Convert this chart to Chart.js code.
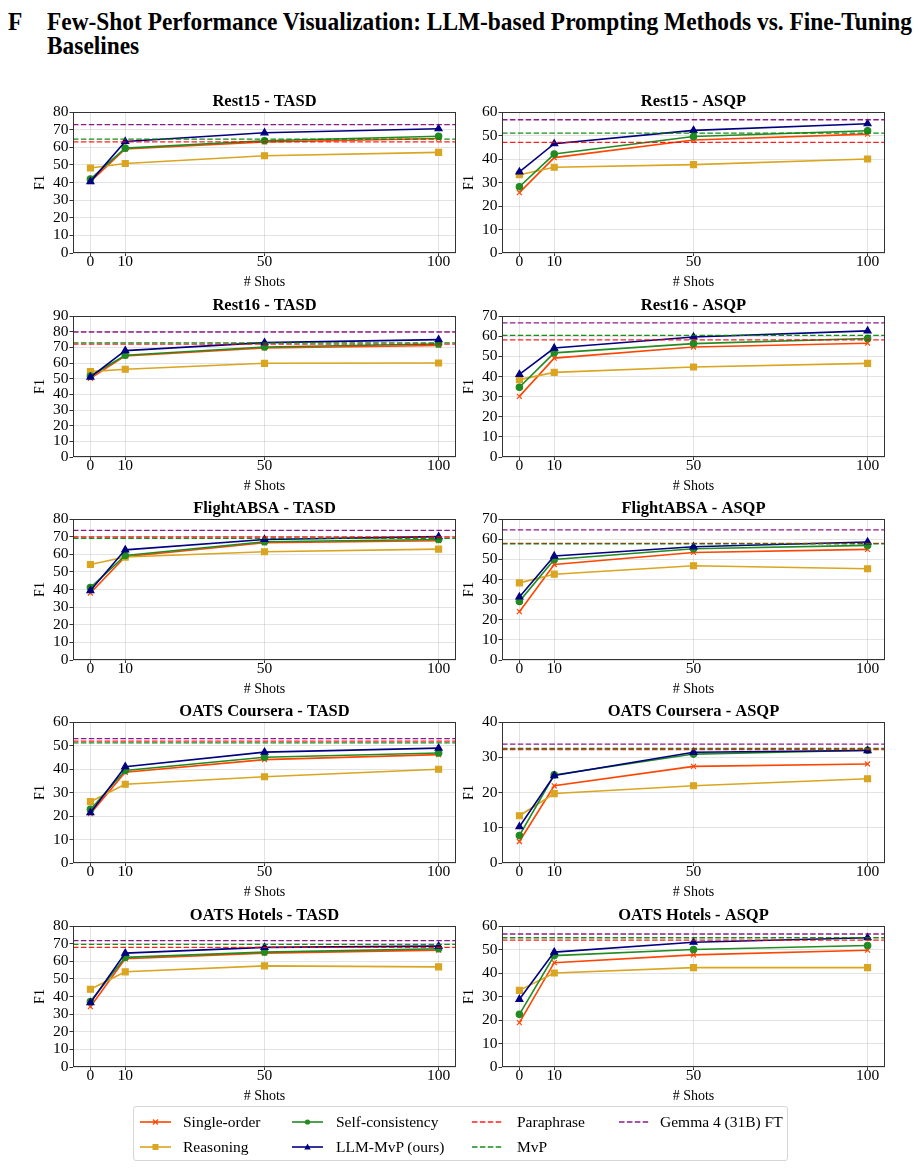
<!DOCTYPE html>
<html>
<head>
<meta charset="utf-8">
<script src="https://cdn.jsdelivr.net/npm/chart.js@4.4.1/dist/chart.umd.min.js"></script>
<style>
  body { margin: 0; background: #fff; width: 920px; height: 1168px; position: relative; overflow: hidden;
         font-family: "Liberation Serif", "Times New Roman", serif; color: #000; }
  .head { position: absolute; top: 10px; font-size: 25px; font-weight: bold; line-height: 24px;
          white-space: nowrap; transform-origin: 0 0; }
  .panel { position: absolute; }
  #legend { position: absolute; left: 133px; top: 1106px; width: 655px; height: 55px; box-sizing: border-box;
            border: 1px solid #d6d6d6; border-radius: 3px; }
  .item { position: absolute; height: 20px; }
  .item svg { position: absolute; left: 0; top: 4px; }
  .item span { position: absolute; top: 0; line-height: 20px; font-size: 15.5px; white-space: nowrap; }
</style>
</head>
<body>
<div class="head" id="secF" style="left:8px">F</div>
<div class="head" id="h1" style="left:47px">Few-Shot Performance Visualization: LLM-based Prompting Methods vs. Fine-Tuning</div>
<div class="head" id="h2" style="left:47px; top:34px">Baselines</div>
<div id="panels"></div>
<div id="legend"></div>

<script>
// --- Data ---
const shots = [0, 10, 50, 100];
const panelTitles = [
  "Rest15 - TASD", "Rest15 - ASQP",
  "Rest16 - TASD", "Rest16 - ASQP",
  "FlightABSA - TASD", "FlightABSA - ASQP",
  "OATS Coursera - TASD", "OATS Coursera - ASQP",
  "OATS Hotels - TASD", "OATS Hotels - ASQP"
];
const yMax = [80, 60, 90, 70, 80, 70, 60, 40, 80, 60];

const methodNames = ["Single-order", "Reasoning", "Self-consistency", "LLM-MvP (ours)"];
const baselineNames = ["Paraphrase", "MvP", "Gemma 4 (31B) FT"];

// one row per panel, values at 0 / 10 / 50 / 100 shots
const singleOrder = [
  [40.5, 59.0, 63.0, 65.0],
  [25.7, 40.6, 48.1, 50.6],
  [50.2, 64.5, 69.6, 71.2],
  [30.1, 49.1, 54.6, 56.5],
  [38.0, 58.6, 66.5, 67.7],
  [24.0, 47.4, 53.4, 54.9],
  [21.0, 38.6, 44.0, 46.1],
  [6.1, 21.9, 27.4, 28.1],
  [34.2, 61.4, 64.6, 66.3],
  [18.9, 44.4, 47.7, 49.7]
];
const reasoning = [
  [48.2, 50.8, 55.2, 57.1],
  [33.3, 36.5, 37.6, 40.0],
  [54.5, 56.0, 59.8, 60.0],
  [38.4, 42.0, 44.7, 46.5],
  [54.2, 58.4, 61.4, 62.9],
  [38.3, 42.6, 46.8, 45.3],
  [26.1, 33.5, 36.7, 39.9],
  [13.4, 19.7, 21.9, 23.9],
  [44.1, 54.0, 57.4, 56.8],
  [32.6, 40.0, 42.3, 42.3]
];
const selfConsistency = [
  [42.0, 59.5, 63.7, 66.2],
  [28.2, 42.1, 49.6, 52.0],
  [51.7, 64.9, 70.2, 72.1],
  [34.6, 51.7, 56.3, 58.8],
  [41.1, 59.3, 67.1, 68.4],
  [29.1, 49.9, 55.2, 56.9],
  [22.8, 39.4, 45.0, 46.8],
  [7.8, 25.0, 30.9, 32.0],
  [37.1, 62.2, 65.2, 67.1],
  [22.4, 47.4, 50.0, 51.7]
];
const llmMvp = [
  [40.5, 63.3, 68.2, 70.5],
  [34.5, 46.5, 52.2, 55.0],
  [51.0, 67.9, 73.0, 74.9],
  [41.0, 54.1, 59.6, 62.6],
  [39.4, 62.5, 68.4, 70.0],
  [31.3, 51.6, 56.2, 58.6],
  [21.4, 41.0, 47.2, 48.9],
  [10.3, 24.8, 31.4, 31.9],
  [36.5, 64.6, 67.9, 68.6],
  [28.8, 48.9, 53.1, 55.0]
];

// fine-tuning baselines (horizontal dashed lines), one value per panel
const paraphrase = [63.1, 47.1, 72.1, 58.1, 69.8, 57.9, 51.9, 32.2, 67.9, 54.0];
const mvp        = [64.6, 51.0, 72.8, 60.4, 69.0, 57.7, 51.1, 32.5, 69.6, 55.0];
const gemma      = [72.8, 56.7, 79.8, 66.6, 73.6, 64.6, 52.9, 33.7, 71.7, 56.6];

// --- Styles ---
const SERIF = '"Liberation Serif", "Times New Roman", serif';
const X_MIN = -5, X_MAX = 105;
const methodStyles = [
  { color: '#ff4500', point: 'crossRot', r: 3.5 },
  { color: '#daa520', point: 'rect', r: 4.2 },
  { color: '#228b22', point: 'circle', r: 3.2 },
  { color: '#000080', point: 'triangle', r: 4 }
];
const baselineColors = ['rgba(255,0,0,0.88)', 'rgba(0,128,0,0.9)', 'rgba(128,0,128,0.9)'];

Chart.defaults.font.family = SERIF;
Chart.defaults.color = '#000';

// Frame around the plot area (matplotlib spines)
const framePlugin = {
  id: 'frame',
  afterDraw(chart) {
    const { ctx, chartArea: a } = chart;
    ctx.save();
    ctx.strokeStyle = '#333';
    ctx.lineWidth = 1;
    ctx.strokeRect(Math.round(a.left) + 0.5, Math.round(a.top) + 0.5,
                   Math.round(a.right - a.left) - 1, Math.round(a.bottom - a.top) - 1);
    ctx.restore();
  }
};

const colLeft = [32, 461];
const rowTop = [92, 296, 499, 702, 906];

function makePanel(p) {
  const canvas = document.createElement('canvas');
  canvas.width = 430;
  canvas.height = 202;
  canvas.className = 'panel';
  canvas.style.left = colLeft[p % 2] + 'px';
  canvas.style.top = rowTop[Math.floor(p / 2)] + 'px';
  document.getElementById('panels').appendChild(canvas);

  const methodData = [singleOrder[p], reasoning[p], selfConsistency[p], llmMvp[p]];
  const datasets = methodData.map((vals, i) => ({
    label: methodNames[i],
    data: vals.map((v, k) => ({ x: shots[k], y: v })),
    borderColor: methodStyles[i].color,
    backgroundColor: methodStyles[i].color,
    borderWidth: 1.6,
    pointStyle: methodStyles[i].point,
    pointRadius: methodStyles[i].r,
    pointBorderWidth: 1.2,
    order: 7 - i
  }));
  [paraphrase[p], mvp[p], gemma[p]].forEach((v, i) => {
    datasets.push({
      label: baselineNames[i],
      data: [{ x: X_MIN, y: v }, { x: X_MAX, y: v }],
      borderColor: baselineColors[i],
      borderWidth: 1.3,
      borderDash: [5.5, 2.4],
      pointRadius: 0,
      order: 3 - i
    });
  });

  new Chart(canvas, {
    type: 'line',
    data: { datasets },
    plugins: [framePlugin],
    options: {
      responsive: false,
      animation: false,
      devicePixelRatio: 1,
      layout: { padding: { left: 0, right: 6, top: 0, bottom: 0 } },
      plugins: {
        legend: { display: false },
        tooltip: { enabled: false },
        title: {
          display: true, text: panelTitles[p], color: '#000', fullSize: false,
          font: { family: SERIF, size: 16.5, weight: 'bold' },
          padding: { top: 0, bottom: 0.2 }
        }
      },
      scales: {
        x: {
          type: 'linear', min: X_MIN, max: X_MAX,
          afterBuildTicks: s => { s.ticks = shots.map(v => ({ value: v })); },
          afterFit: s => { s.height = 41; },
          ticks: { autoSkip: false, maxRotation: 0, padding: -2, color: '#000',
                   font: { family: SERIF, size: 15.5, lineHeight: 1.0 } },
          grid: { color: 'rgba(176,176,176,0.35)', tickColor: '#333', tickLength: 3 },
          border: { display: false },
          title: { display: true, text: '# Shots', color: '#000',
                   font: { family: SERIF, size: 14 }, padding: { top: 0, bottom: 3.6 } }
        },
        y: {
          min: 0, max: yMax[p],
          afterFit: s => { s.width = 41; },
          ticks: { stepSize: 10, autoSkip: false, padding: 1, color: '#000',
                   font: { family: SERIF, size: 15.5, lineHeight: 1.0 } },
          grid: { color: 'rgba(176,176,176,0.35)', tickColor: '#333', tickLength: 3.5 },
          border: { display: false },
          title: { display: true, text: 'F1', color: '#000',
                   font: { family: SERIF, size: 14 }, padding: { top: 0, bottom: 0 } }
        }
      }
    }
  });
}

for (let p = 0; p < panelTitles.length; p++) makePanel(p);

// --- Shared legend (4 columns, filled column-wise like matplotlib) ---
const legendItems = [
  { name: methodNames[0], color: methodStyles[0].color, marker: 'x', x: 6, row: 0, text: 49 },
  { name: methodNames[1], color: methodStyles[1].color, marker: 's', x: 6, row: 1, text: 49 },
  { name: methodNames[2], color: methodStyles[2].color, marker: 'o', x: 158, row: 0, text: 202 },
  { name: methodNames[3], color: methodStyles[3].color, marker: '^', x: 158, row: 1, text: 202 },
  { name: baselineNames[0], color: baselineColors[0], marker: '', x: 338, row: 0, text: 383 },
  { name: baselineNames[1], color: baselineColors[1], marker: '', x: 338, row: 1, text: 383 },
  { name: baselineNames[2], color: baselineColors[2], marker: '', x: 485, row: 0, text: 526 }
];

function handleSvg(it) {
  const w = 31, cy = 6, cx = 15.5;
  let line = it.marker
    ? `<line x1="0" y1="${cy}" x2="${w}" y2="${cy}" stroke="${it.color}" stroke-width="1.6"/>`
    : `<line x1="0" y1="${cy}" x2="${w}" y2="${cy}" stroke="${it.color}" stroke-width="1.3" stroke-dasharray="5.5 2.4"/>`;
  let mk = '';
  if (it.marker === 'x') mk = `<path d="M${cx-2.5} ${cy-2.5}L${cx+2.5} ${cy+2.5}M${cx-2.5} ${cy+2.5}L${cx+2.5} ${cy-2.5}" stroke="${it.color}" stroke-width="1.2"/>`;
  if (it.marker === 's') mk = `<rect x="${cx-3}" y="${cy-3}" width="6" height="6" fill="${it.color}"/>`;
  if (it.marker === 'o') mk = `<circle cx="${cx}" cy="${cy}" r="2.6" fill="${it.color}"/>`;
  if (it.marker === '^') mk = `<polygon points="${cx},${cy-3.4} ${cx+3.2},${cy+2.4} ${cx-3.2},${cy+2.4}" fill="${it.color}"/>`;
  return `<svg width="${w}" height="12">${line}${mk}</svg>`;
}

const legend = document.getElementById('legend');
legendItems.forEach(it => {
  const d = document.createElement('div');
  d.className = 'item';
  d.style.left = it.x + 'px';
  d.style.top = (it.row === 0 ? 5 : 30) + 'px';
  d.innerHTML = handleSvg(it) + `<span style="left:${it.text - it.x}px">${it.name}</span>`;
  legend.appendChild(d);
});

// --- Heading: condensed bold serif, fitted to the reference width ---
const h1 = document.getElementById('h1');
const sc = 865 / h1.getBoundingClientRect().width;
['secF', 'h1', 'h2'].forEach(id => {
  document.getElementById(id).style.transform = `scaleX(${sc})`;
});
</script>
</body>
</html>
